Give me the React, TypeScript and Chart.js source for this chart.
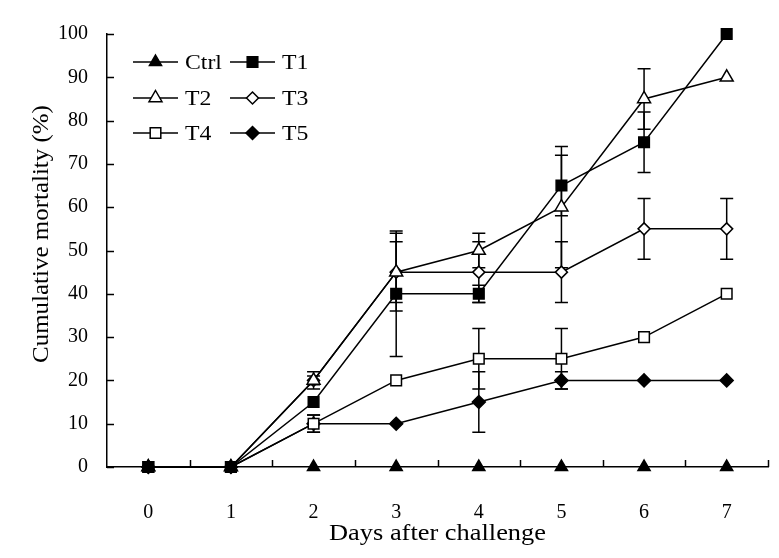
import React, { useEffect, useRef } from 'react';
import { Chart, registerables } from 'chart.js';

Chart.register(...registerables);

const days = ['0', '1', '2', '3', '4', '5', '6', '7'];
const yTicks = [0, 10, 20, 30, 40, 50, 60, 70, 80, 90, 100];

const ctrl = [0, 0, 0, 0, 0, 0, 0, 0];
const t1 = [0, 0, 15, 40, 40, 65, 75, 100];
const t2 = [0, 0, 20, 45, 50, 60, 85, 90];
const t3 = [0, 0, 20, 45, 45, 45, 55, 55];
const t4 = [0, 0, 10, 20, 25, 25, 30, 40];
const t5 = [0, 0, 10, 10, 15, 20, 20, 20];

const ctrlErr = [0, 0, 0, 0, 0, 0, 0, 0];
const t1Err = [0, 0, 0, 14.5, 2, 7, 7, 0];
const t2Err = [0, 0, 2, 9, 4, 14, 7, 0];
const t3Err = [0, 0, 1, 7, 7, 7, 7, 7];
const t4Err = [0, 0, 2, 0, 7, 7, 0, 0];
const t5Err = [0, 0, 2, 0, 7, 2, 0, 0];

const seriesNames = ['Ctrl', 'T1', 'T2', 'T3', 'T4', 'T5'];
const seriesValues = [ctrl, t1, t2, t3, t4, t5];
const seriesErrors = [ctrlErr, t1Err, t2Err, t3Err, t4Err, t5Err];
const seriesShapes = ['triangle', 'rect', 'triangle', 'rectRot', 'rect', 'rectRot'];
const seriesFilled = [true, true, false, false, false, true];
const seriesRadius = [7, 7.5, 7.5, 6, 7.5, 6.5];

const FONT = '"Liberation Serif", "Times New Roman", serif';

function drawMarker(ctx: CanvasRenderingContext2D, shape: string, x: number, y: number, r: number, filled: boolean) {
  ctx.beginPath();
  if (shape === 'triangle') {
    ctx.moveTo(x, y - r);
    ctx.lineTo(x + r * 0.866, y + r * 0.5);
    ctx.lineTo(x - r * 0.866, y + r * 0.5);
    ctx.closePath();
  } else if (shape === 'rect') {
    const s = Math.SQRT1_2 * r;
    ctx.rect(x - s, y - s, 2 * s, 2 * s);
  } else {
    ctx.moveTo(x, y - r);
    ctx.lineTo(x + r, y);
    ctx.lineTo(x, y + r);
    ctx.lineTo(x - r, y);
    ctx.closePath();
  }
  ctx.fillStyle = filled ? '#000' : '#fff';
  ctx.fill();
  ctx.lineWidth = 1.5;
  ctx.strokeStyle = '#000';
  ctx.stroke();
}

function stretchedText(ctx: CanvasRenderingContext2D, text: string, x: number, y: number, sx: number, rotate: boolean) {
  ctx.save();
  ctx.translate(x, y);
  if (rotate) ctx.rotate(-Math.PI / 2);
  ctx.scale(sx, 1);
  ctx.fillText(text, 0, 0);
  ctx.restore();
}

const errorBarPlugin = {
  id: 'errorBars',
  beforeDatasetsDraw(chart: any) {
    const { ctx, scales } = chart;
    const x = scales.x;
    const y = scales.y;
    ctx.save();
    ctx.strokeStyle = '#000';
    ctx.lineWidth = 1.5;
    seriesValues.forEach((vals, si) => {
      const errs = seriesErrors[si];
      vals.forEach((v, i) => {
        const e = errs[i];
        if (!e) return;
        const px = x.getPixelForValue(i);
        const top = y.getPixelForValue(v + e);
        const bot = y.getPixelForValue(v - e);
        ctx.beginPath();
        ctx.moveTo(px, top);
        ctx.lineTo(px, bot);
        ctx.moveTo(px - 6.5, top);
        ctx.lineTo(px + 6.5, top);
        ctx.moveTo(px - 6.5, bot);
        ctx.lineTo(px + 6.5, bot);
        ctx.stroke();
      });
    });
    ctx.restore();
  },
  afterDraw(chart: any) {
    const { ctx, scales, chartArea } = chart;
    const x = scales.x;
    const y = scales.y;
    ctx.save();
    ctx.strokeStyle = '#000';
    ctx.lineWidth = 1.5;
    yTicks.forEach((v) => {
      const py = Math.round(y.getPixelForValue(v)) + 0.5;
      ctx.beginPath();
      ctx.moveTo(chartArea.left, py);
      ctx.lineTo(chartArea.left + 7, py);
      ctx.stroke();
    });
    const step = x.getPixelForValue(1) - x.getPixelForValue(0);
    for (let i = 0; i < days.length; i++) {
      const px = Math.round(x.getPixelForValue(i) + step / 2) + 0.5;
      ctx.beginPath();
      ctx.moveTo(px, chartArea.bottom);
      ctx.lineTo(px, chartArea.bottom - 7);
      ctx.stroke();
    }
    ctx.fillStyle = '#000';
    ctx.font = `24px ${FONT}`;
    ctx.textAlign = 'center';
    ctx.textBaseline = 'alphabetic';
    stretchedText(ctx, 'Days after challenge', (chartArea.left + chartArea.right) / 2, 540, 1.1, false);
    ctx.textBaseline = 'middle';
    stretchedText(ctx, 'Cumulative mortality (%)', 42, 234, 1.04, true);
    const cols = [133, 230];
    const rows = [62, 98, 133];
    ctx.font = `22px ${FONT}`;
    ctx.textAlign = 'left';
    seriesNames.forEach((name, si) => {
      const cx = cols[si % 2];
      const cy = rows[Math.floor(si / 2)];
      ctx.beginPath();
      ctx.lineWidth = 1.5;
      ctx.strokeStyle = '#000';
      ctx.moveTo(cx, cy);
      ctx.lineTo(cx + 45, cy);
      ctx.stroke();
      drawMarker(ctx, seriesShapes[si], cx + 22.5, cy, seriesRadius[si], seriesFilled[si]);
      ctx.fillStyle = '#000';
      stretchedText(ctx, name, cx + 52, cy + 1, 1.08, false);
    });
    ctx.restore();
  },
};

export default function App() {
  const ref = useRef<HTMLCanvasElement | null>(null);
  useEffect(() => {
    if (!ref.current) return;
    const chart = new Chart(ref.current, {
      type: 'line',
      data: {
        labels: days,
        datasets: seriesValues.map((vals, si) => ({
          label: seriesNames[si],
          data: vals,
          borderColor: '#000',
          borderWidth: 1.5,
          backgroundColor: seriesFilled[si] ? '#000' : '#fff',
          pointBackgroundColor: seriesFilled[si] ? '#000' : '#fff',
          pointBorderColor: '#000',
          pointBorderWidth: 1.5,
          pointStyle: seriesShapes[si] as any,
          pointRadius: seriesRadius[si],
          pointHoverRadius: seriesRadius[si],
          tension: 0,
          fill: false,
          clip: false as any,
          showLine: si !== 0,
        })),
      },
      options: {
        animation: false,
        responsive: true,
        maintainAspectRatio: false,
        layout: { padding: { top: 34, right: 11, left: 0, bottom: 0 } },
        plugins: {
          legend: { display: false },
          tooltip: { enabled: false },
        },
        scales: {
          x: {
            type: 'category',
            offset: true,
            grid: { display: false },
            border: { display: true, color: '#000', width: 1.5 },
            ticks: {
              color: '#000',
              padding: 26,
              font: { family: FONT, size: 20 },
              maxRotation: 0,
            },
            afterFit: (scale: any) => {
              scale.height = 91;
            },
          },
          y: {
            min: 0,
            max: 100,
            grid: { display: false },
            border: { display: true, color: '#000', width: 1.5 },
            ticks: {
              stepSize: 10,
              color: '#000',
              padding: 11,
              font: { family: FONT, size: 20 },
            },
            afterFit: (scale: any) => {
              scale.width = 107;
            },
          },
        },
      },
      plugins: [errorBarPlugin],
    });
    return () => chart.destroy();
  }, []);
  return (
    <div style={{ position: 'fixed', left: 0, top: 0, width: 779, height: 558, background: '#fff' }}>
      <canvas ref={ref} />
    </div>
  );
}
